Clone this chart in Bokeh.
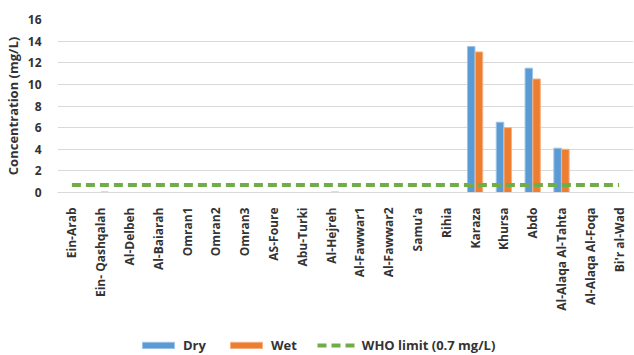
import math
from bokeh.plotting import figure
from bokeh.layouts import column
from bokeh.models import ColumnDataSource, FactorRange, Range1d, FixedTicker, Legend, LegendItem
from bokeh.transform import dodge
from bokeh.embed import file_html
from bokeh.resources import INLINE

sites = ["Ein-Arab", "Ein- Qashqalah", "Al-Delbeh", "Al-Baiarah", "Omran1", "Omran2",
         "Omran3", "AS-Foure", "Abu-Turki", "Al-Hejreh", "Al-Fawwar1", "Al-Fawwar2",
         "Samu'a", "Rihia", "Karaza", "Khursa", "Abdo", "Al-Alaqa Al-Tahta",
         "Al-Alaqa Al-Foqa", "Bi'r al-Wad"]
dry = [0, 0, 0, 0, 0, 0, 0, 0, 0, 0, 0, 0, 0, 0, 13.5, 6.5, 11.5, 4.1, 0, 0]
wet = [0, 0.05, 0, 0, 0, 0, 0, 0, 0, 0.05, 0, 0, 0, 0, 13.0, 6.0, 10.5, 4.0, 0, 0]
who_limit = 0.7
y_ticks = [0, 2, 4, 6, 8, 10, 12, 14, 16]

src = ColumnDataSource(dict(site=sites, dry=dry, wet=wet, who=[who_limit] * len(sites)))

FONT = "Open Sans"
TXT = "#333333"
BLUE, BLUE_EDGE = "#5B9BD5", "#9DC3E6"
ORANGE, ORANGE_EDGE = "#ED7D31", "#F4B183"
GREEN = "#70AD47"

p = figure(width=634, height=337, x_range=FactorRange(*sites, range_padding=0),
           y_range=Range1d(0, 16), output_backend="svg", toolbar_location=None,
           min_border_left=57, min_border_right=1, min_border_top=19,
           min_border_bottom=145)

p.vbar(x=dodge("site", -0.135, range=p.x_range), top="dry", width=0.26, source=src,
       fill_color=BLUE, line_color=BLUE_EDGE, line_width=1)
p.vbar(x=dodge("site", 0.135, range=p.x_range), top="wet", width=0.26, source=src,
       fill_color=ORANGE, line_color=ORANGE_EDGE, line_width=1)
p.line(x="site", y="who", source=src, line_color=GREEN, line_width=4, line_dash="9 5")

p.outline_line_color = None
p.xgrid.grid_line_color = None
p.ygrid.grid_line_color = "#d9d9d9"
p.ygrid.grid_line_width = 1
p.yaxis.ticker = FixedTicker(ticks=y_ticks)
p.yaxis.axis_line_color = None
p.yaxis.major_tick_line_color = None
p.yaxis.minor_tick_line_color = None
p.yaxis.axis_label = "Concentration (mg/L)"
p.yaxis.axis_label_text_font = FONT
p.yaxis.axis_label_text_font_style = "bold"
p.yaxis.axis_label_text_font_size = "13px"
p.yaxis.axis_label_text_color = TXT
p.yaxis.axis_label_standoff = 3
p.yaxis.major_label_text_font = FONT
p.yaxis.major_label_text_font_style = "bold"
p.yaxis.major_label_text_font_size = "12px"
p.yaxis.major_label_text_color = TXT
p.yaxis.major_label_standoff = 10

p.xaxis.axis_line_color = "#d9d9d9"
p.xaxis.major_tick_line_color = None
p.xaxis.minor_tick_line_color = None
p.xaxis.major_label_orientation = math.pi / 2
p.xaxis.major_label_text_font = FONT
p.xaxis.major_label_text_font_style = "bold"
p.xaxis.major_label_text_font_size = "12px"
p.xaxis.major_label_text_color = TXT
p.xaxis.major_label_standoff = 9

# legend strip under the chart (same series styles; hidden key renderers)
lg = figure(width=634, height=18, output_backend="svg", toolbar_location=None,
            x_axis_location=None, y_axis_location=None, min_border=0)
lg.outline_line_color = None
lg.grid.grid_line_color = None
idx = list(range(len(sites)))
k_dry = lg.vbar(x=idx, top=dry, width=0.26, fill_color=BLUE, line_color=BLUE_EDGE,
                line_width=1, visible=False)
k_wet = lg.vbar(x=idx, top=wet, width=0.26, fill_color=ORANGE, line_color=ORANGE_EDGE,
                line_width=1, visible=False)
k_who = lg.line(x=idx, y=[who_limit] * len(sites), line_color=GREEN, line_width=4,
                line_dash="9 5", visible=False)

legend = Legend(items=[LegendItem(label="Dry", renderers=[k_dry]),
                       LegendItem(label="Wet", renderers=[k_wet]),
                       LegendItem(label="WHO limit (0.7 mg/L)", renderers=[k_who])],
                orientation="horizontal", location=(81, 1), click_policy="none",
                border_line_color=None, background_fill_alpha=0,
                inactive_fill_alpha=0,
                glyph_width=40, glyph_height=8, label_height=16,
                label_standoff=5, spacing=20, padding=0, margin=0,
                label_text_font=FONT, label_text_font_style="bold",
                label_text_font_size="13px", label_text_color=TXT)
lg.add_layout(legend, "center")

layout = column(p, lg, spacing=0)
open("out.html", "w").write(file_html(layout, INLINE))
